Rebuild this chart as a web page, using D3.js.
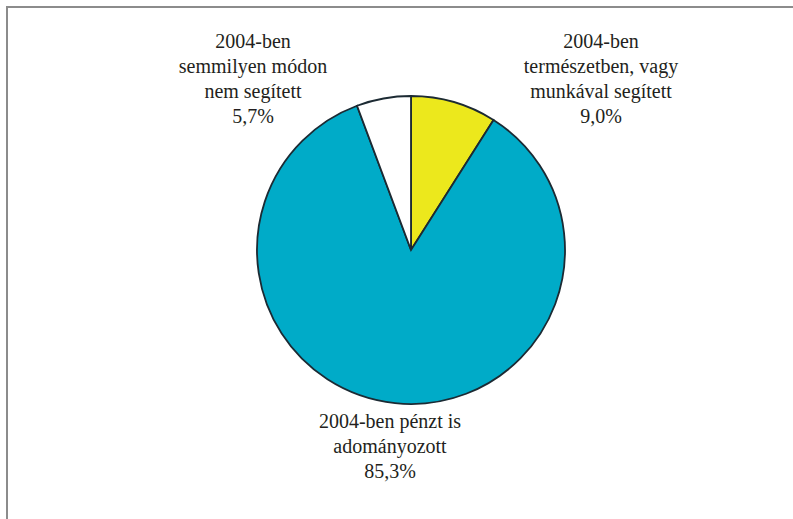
<!DOCTYPE html>
<html>
<head>
<meta charset="utf-8">
<script src="https://cdn.jsdelivr.net/npm/d3@7"></script>
<style>
  html, body { margin: 0; padding: 0; background: #fff; }
  .label { font-family: 'Times New Roman', 'Liberation Serif', Times, 'DejaVu Serif', 'Noto Serif', serif; font-size: 20px; fill: #231f20; }
</style>
</head>
<body>
<div id="chart"></div>
<script>
// data
const categories = [
  ['2004-ben', 'természetben, vagy', 'munkával segített'],
  ['2004-ben pénzt is', 'adományozott'],
  ['2004-ben', 'semmilyen módon', 'nem segített'],
];
const values = [9.0, 85.3, 5.7];
const valueLabels = ['9,0%', '85,3%', '5,7%'];
const colors = ['#ece81c', '#00abc8', '#ffffff'];

// dimension stuff
const width = 793;
const height = 519;
const cx = 411;
const cy = 250;
const radius = 154;
const LINE_H = 25;

// label anchors (top baseline of each block)
const labelPos = [
  { x: 601, y: 48 },
  { x: 390, y: 428 },
  { x: 253, y: 48 },
];

const $svg = d3.select('#chart').append('svg')
  .attr('width', width)
  .attr('height', height);

// frame (only left and top edges show)
$svg.append('path')
  .attr('d', `M7,${height} V7 H${width}`)
  .attr('fill', 'none')
  .attr('stroke', '#8c8c8c')
  .attr('stroke-width', 2);

const pie = d3.pie().sort(null).value(d => d);
const arc = d3.arc().innerRadius(0).outerRadius(radius);

const $g = $svg.append('g').attr('transform', `translate(${cx}, ${cy})`);

$g.selectAll('path.slice')
  .data(pie(values))
  .join('path')
  .attr('class', 'slice')
  .attr('d', arc)
  .attr('fill', (d, i) => colors[i])
  .attr('stroke', '#1c2a33')
  .attr('stroke-width', 1.8)
  .attr('stroke-linejoin', 'miter');

// labels
const $labels = $svg.selectAll('text.label')
  .data(categories)
  .join('text')
  .attr('class', 'label')
  .attr('text-anchor', 'middle')
  .attr('x', (d, i) => labelPos[i].x)
  .attr('y', (d, i) => labelPos[i].y);

$labels.each(function (d, i) {
  const lines = d.concat(valueLabels[i]);
  d3.select(this).selectAll('tspan')
    .data(lines)
    .join('tspan')
    .attr('x', labelPos[i].x)
    .attr('y', (l, j) => labelPos[i].y + j * LINE_H)
    .text(l => l);
});
</script>
</body>
</html>
